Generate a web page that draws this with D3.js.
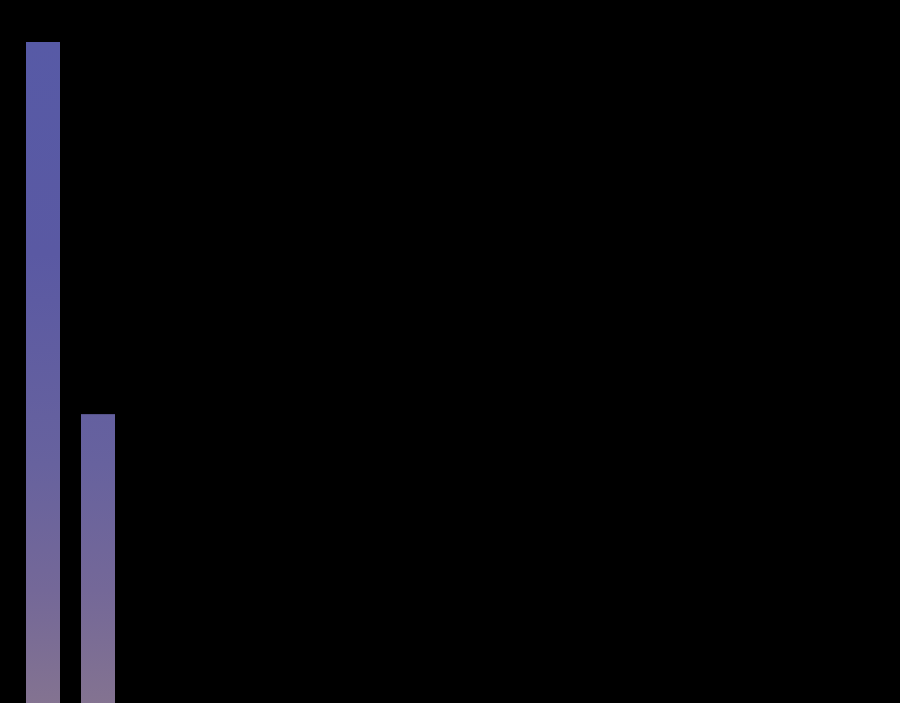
<!DOCTYPE html>
<html>
<head>
<meta charset="utf-8">
<script src="https://cdn.jsdelivr.net/npm/d3@7"></script>
<style>
  html, body { margin: 0; padding: 0; background: #000; overflow: hidden; }
</style>
</head>
<body>
<div class="chart"></div>
<script>
// DATA
const categories = ["A", "B"];
const values = [100, 43.7];

// CHART INIT
let outerWidth = 900;
let outerHeight = 703;
let margin = {top: 42, right: 0, bottom: 0, left: 0};
let height = outerHeight - margin.top - margin.bottom;

let svg = d3.select('.chart').append('svg')
    .attr('width', outerWidth)
    .attr('height', outerHeight)
    .style('display', 'block')
    .style('background', '#000');

// gradient runs over the whole page height, shared by both bars
let grad = svg.append('defs').append('linearGradient')
    .attr('id', 'barGrad')
    .attr('gradientUnits', 'userSpaceOnUse')
    .attr('x1', 0).attr('y1', 0)
    .attr('x2', 0).attr('y2', outerHeight);
grad.append('stop').attr('offset', '0%').attr('stop-color', '#575aa6');
grad.append('stop').attr('offset', '30%').attr('stop-color', '#5a59a3');
grad.append('stop').attr('offset', '60%').attr('stop-color', '#67629e');
grad.append('stop').attr('offset', '78%').attr('stop-color', '#746898');
grad.append('stop').attr('offset', '100%').attr('stop-color', '#89778e');

let g = svg.append('g')
    .attr('transform', `translate(${margin.left}, ${margin.top})`);

// step 55px, bar width 34px
const xScale = d3.scaleBand()
    .domain(categories)
    .range([26, 115])
    .paddingInner(21 / 55)
    .paddingOuter(0);

const yScale = d3.scaleLinear()
    .domain([0, d3.max(values)])
    .range([height, 0]);

g.selectAll('rect')
    .data(categories)
    .enter()
    .append('rect')
    .attr('x', d => xScale(d))
    .attr('y', (d, i) => yScale(values[i]))
    .attr('width', xScale.bandwidth())
    .attr('height', (d, i) => height - yScale(values[i]))
    .attr('fill', 'url(#barGrad)');
</script>
</body>
</html>
